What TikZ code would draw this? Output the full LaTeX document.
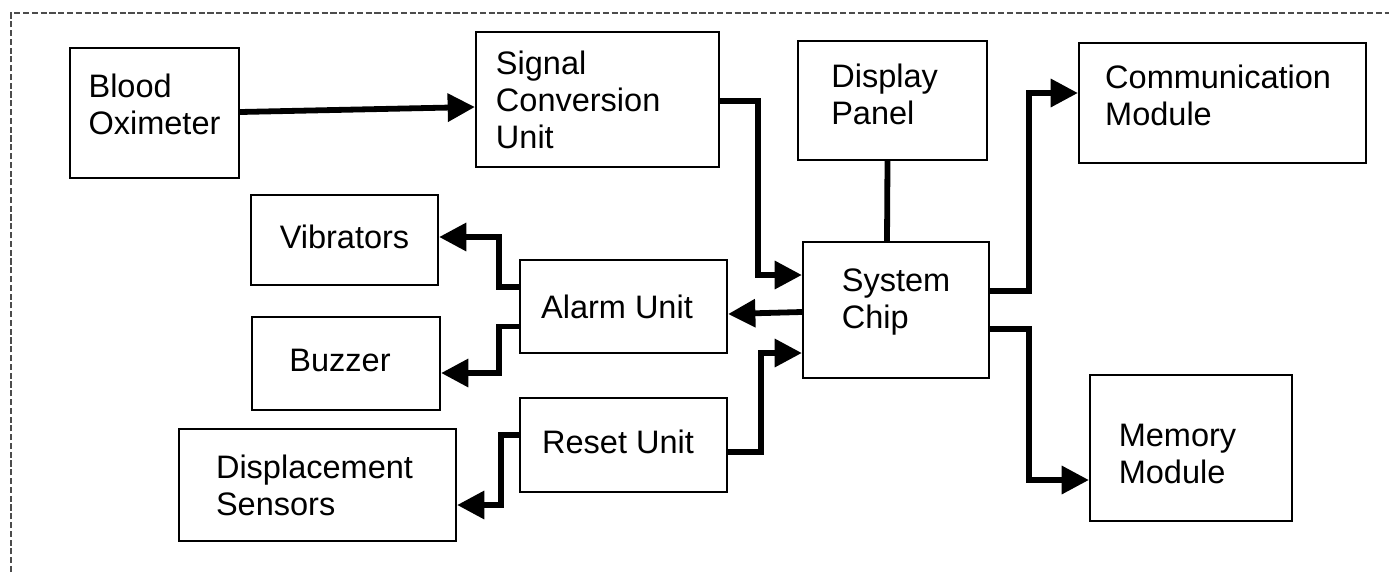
\documentclass[tikz,border=0pt]{standalone}
\usepackage{fontspec}
\setmainfont{Liberation Sans}
\usetikzlibrary{arrows.meta,calc}

\begin{document}
\begin{tikzpicture}[x = 0.02cm, y = -0.02cm,
                block/.style = {draw, line width = 1.3pt, inner sep = 0pt},
                txt/.style = {align = left, inner sep = 0pt, font = \fontsize{18.5}{21}\selectfont},
                conn/.style = {line width = 3.3pt, -{Triangle[length = 15.5pt, width = 15.5pt]}},
                link/.style = {line width = 3.3pt}]
                \useasboundingbox (0, 0) rectangle (1389, 572);
                \draw[dash pattern = on 3.5pt off 1.5pt, line width = 0.6pt, black!70] (11, 572) -- (11, 13) -- (1389, 13);
                % blocks
                \node[block, minimum width = 3.38cm, minimum height = 2.6cm,
                      label = {[txt, yshift = 5pt]center:{Blood\\Oximeter}}] (oxi) at (154.5, 113) {};
                \node[block, minimum width = 4.86cm, minimum height = 2.7cm,
                      label = {[txt, xshift = -11pt]center:{Signal\\Conversion\\Unit}}] (sig) at (597.5, 99.5) {};
                \node[block, minimum width = 3.78cm, minimum height = 2.38cm,
                      label = {[txt, xshift = -4.5pt, yshift = 3.4pt]center:{Display\\Panel}}] (disp) at (892.5, 100.5) {};
                \node[block, minimum width = 5.74cm, minimum height = 2.4cm,
                      label = {[txt, xshift = -2.5pt, yshift = 4.5pt]center:{Communication\\Module}}] (comm) at (1222.5, 103) {};
                \node[block, minimum width = 3.74cm, minimum height = 1.8cm,
                      label = {[txt, yshift = 1.7pt]center:{Vibrators}}] (vib) at (344.5, 240) {};
                \node[block, minimum width = 3.76cm, minimum height = 1.86cm,
                      label = {[txt, xshift = -3.4pt, yshift = 1.7pt]center:{Buzzer}}] (buz) at (346, 363.5) {};
                \node[block, minimum width = 4.14cm, minimum height = 1.86cm,
                      label = {[txt, xshift = -3.7pt]center:{Alarm Unit}}] (alarm) at (623.5, 306.5) {};
                \node[block, minimum width = 4.14cm, minimum height = 1.88cm,
                      label = {[txt, xshift = -3.1pt, yshift = 1.7pt]center:{Reset Unit}}] (reset) at (623.5, 445) {};
                \node[block, minimum width = 5.54cm, minimum height = 2.24cm,
                      label = {[txt, xshift = -1.7pt]center:{Displacement\\Sensors}}] (dsens) at (317.5, 485) {};
                \node[block, minimum width = 3.72cm, minimum height = 2.72cm,
                      label = {[txt, yshift = 4.5pt]center:{System\\Chip}}] (chip) at (896, 310) {};
                \node[block, minimum width = 4.04cm, minimum height = 2.92cm,
                      label = {[txt, xshift = -7.7pt, yshift = -3.4pt]center:{Memory\\Module}}] (mem) at (1191, 448) {};
                % connectors
                \draw[conn] ($(oxi.east) + (0, -1)$) -- ($(sig.west) + (0, 7.5)$);
                \draw[conn] ($(sig.east) + (0, 1.5)$) -- ++(38, 0) |- ($(chip.west) + (0, -35)$);
                \draw[link] ($(disp.south) + (-5, 0)$) -- ($(chip.north) + (-9, 0)$);
                \draw[conn] ($(chip.east) + (0, -19)$) -- ++(39, 0) |- ($(comm.west) + (0, -10)$);
                \draw[conn] ($(chip.east) + (0, 19)$) -- ++(39, 0) |- ($(mem.west) + (0, 32)$);
                \draw[conn] ($(chip.west) + (0, 2)$) -- ($(alarm.east) + (0, 7.5)$);
                \draw[conn] ($(reset.east) + (0, 7)$) -- ++(33, 0) |- ($(chip.west) + (0, 43)$);
                \draw[conn] ($(alarm.west) + (0, -19.5)$) -- ++(-20, 0) |- ($(vib.east) + (0, -3)$);
                \draw[conn] ($(alarm.west) + (0, 20)$) -- ++(-20, 0) |- ($(buz.east) + (0, 9.5)$);
                \draw[conn] ($(reset.west) + (0, -10)$) -- ++(-18, 0) |- ($(dsens.east) + (0, 20)$);
\end{tikzpicture}
\end{document}
